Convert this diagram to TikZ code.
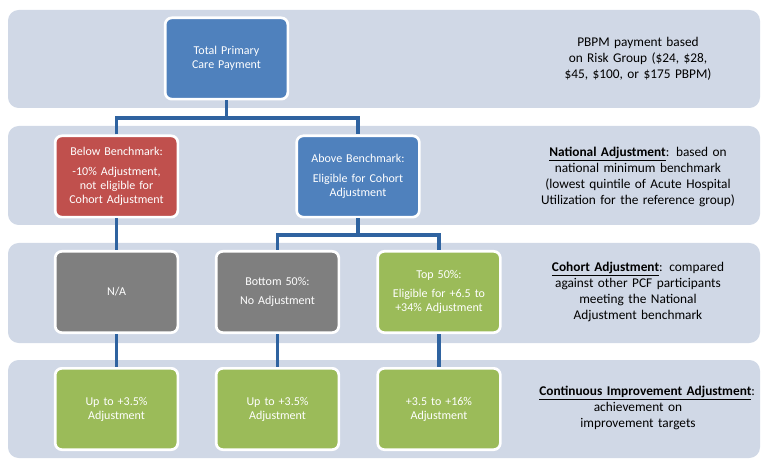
\documentclass[tikz,border=0pt]{standalone}
\usepackage{fontspec}
\setmainfont{Carlito}
\usetikzlibrary{positioning}
\definecolor{bandFill}{HTML}{D0D8E6}
\definecolor{boxBlue}{HTML}{4F81BD}
\definecolor{boxRed}{HTML}{C0504D}
\definecolor{boxGray}{HTML}{7F7F7F}
\definecolor{boxGreen}{HTML}{9BBB59}
\definecolor{lineBlue}{HTML}{2F63A0}
\hyphenpenalty=10000
\exhyphenpenalty=10000
\begin{document}
\begin{tikzpicture}[x=0.75pt,y=-0.75pt]
\tikzset{
  band/.style={fill=bandFill, rounded corners=8pt},
  stepBox/.style={
    rectangle, rounded corners=5pt,
                   draw=white, line width=2pt,
                   minimum width=92pt, minimum height=61pt,
                   text width=78pt, align=center, text=white,
                   font=\fontsize{9}{10.5}\selectfont
    },
  note/.style={text width=148pt, align=center, font=\fontsize{10}{12}\selectfont},
  link/.style={draw=lineBlue, line width=2.4pt}
}
    \useasboundingbox (0,0) rectangle (766,466);
    % bands
    \fill[band] (8,10) rectangle (760,108);
    \fill[band] (8,126) rectangle (760,225);
    \fill[band] (8,243) rectangle (760,343);
    \fill[band] (8,360) rectangle (760,458);

    \node (Total)[stepBox, fill=boxBlue] at (226.5,58.5) {Total Primary Care Payment};
    \node (Below)[stepBox, fill=boxRed] at (116.5,176.5) {Below Benchmark:\\[4pt]-10\% Adjustment, not eligible for Cohort Adjustment};
    \node (Above)[stepBox, fill=boxBlue] at (358,176.5) {Above Benchmark:\\[4pt]Eligible for Cohort Adjustment};
    \node (NA)[stepBox, fill=boxGray] at (116.5,292) {N/A};
    \node (Bottom)[stepBox, fill=boxGray] at (277.5,292) {Bottom 50\%:\\[4pt]No Adjustment};
    \node (Top)[stepBox, fill=boxGreen] at (439,292) {Top 50\%:\\[4pt]Eligible for +6.5 to +34\% Adjustment};
    \node (ImpA)[stepBox, fill=boxGreen] at (116.5,409) {Up to +3.5\% Adjustment};
    \node (ImpB)[stepBox, fill=boxGreen] at (277.5,409) {Up to +3.5\% Adjustment};
    \node (ImpC)[stepBox, fill=boxGreen] at (439,409) {+3.5 to +16\% Adjustment};

    \coordinate (splitA) at (226.5,118);
    \coordinate (splitB) at (358,235);
    \draw[link] (Total) -- (splitA);
    \draw[link] (Below.north) |- (splitA) -| (Above.north);
    \draw[link] (Above) -- (splitB);
    \draw[link] (Bottom.north) |- (splitB) -| (Top.north);
    \draw[link] (Below) -- (NA);
    \draw[link] (NA) -- (ImpA);
    \draw[link] (Bottom) -- (ImpB);
    \draw[link] (Top) -- (ImpC);

    \node (N1)[note] at (638,59) {PBPM payment based on Risk Group (\$24, \$28, \$45, \$100, or \$175 PBPM)};
    \node (N2)[note] at (638,177) {\underline{\textbf{National Adjustment}}: based on national minimum benchmark (lowest quintile of Acute Hospital Utilization for the reference group)};
    \node (N3)[note] at (638,292) {\underline{\textbf{Cohort Adjustment}}: compared against other PCF participants meeting the National Adjustment benchmark};
    \node (N4)[note] at (638,408) {\underline{\textbf{Continuous Improvement Adjustment}}: achievement on improvement targets};
\end{tikzpicture}
\end{document}
